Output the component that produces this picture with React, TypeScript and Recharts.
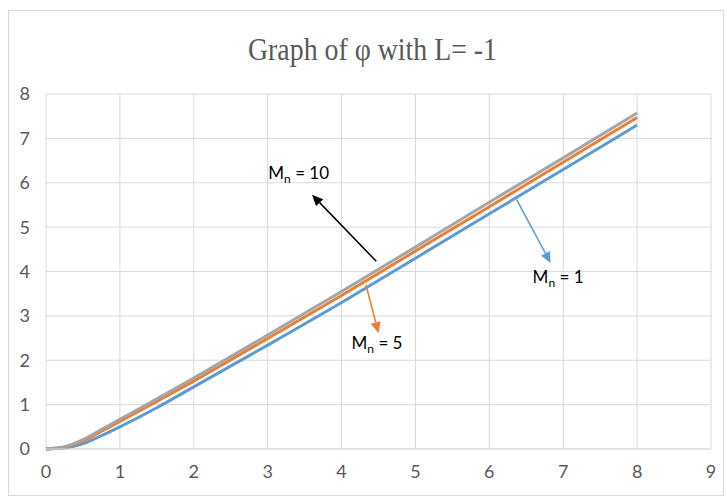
import { LineChart, Line, XAxis, YAxis, CartesianGrid, ReferenceLine, ReferenceDot } from 'recharts'

// eta samples and phi for each M_n
const etaValues = [0, 0.25, 0.5, 0.75, 1, 1.5, 2, 3, 4, 5, 6, 7, 8]
const phiMn1 = [0, 0.02, 0.12, 0.3, 0.5, 0.93, 1.4, 2.34, 3.3, 4.3, 5.3, 6.3, 7.3]
const phiMn5 = [0, 0.04, 0.18, 0.4, 0.62, 1.07, 1.53, 2.49, 3.46, 4.46, 5.46, 6.46, 7.47]
const phiMn10 = [0, 0.05, 0.21, 0.44, 0.67, 1.13, 1.6, 2.57, 3.55, 4.55, 5.56, 6.56, 7.57]

const xTicks = [0, 1, 2, 3, 4, 5, 6, 7, 8, 9]
const yTicks = [0, 1, 2, 3, 4, 5, 6, 7, 8]

// callouts: arrow from tail to head, label centre
const callouts = [
  { label: '10', color: '#000000', tail: [4.47, 4.23], head: [3.6, 5.73], text: [3.42, 6.21] },
  { label: '5', color: '#ED7D31', tail: [4.33, 3.7], head: [4.5, 2.61], text: [4.48, 2.39] },
  { label: '1', color: '#5B9BD5', tail: [6.37, 5.62], head: [6.83, 4.19], text: [6.93, 3.88] },
]

const data = etaValues.map((x, i) => ({ x, m1: phiMn1[i], m5: phiMn5[i], m10: phiMn10[i] }))

const FONT = 'Lato, "Open Sans", sans-serif'

function arrowShape(color: string) {
  return (props: any) => {
    const { x1, y1, x2, y2 } = props
    const ang = Math.atan2(y2 - y1, x2 - x1)
    const len = 11
    const w = 5
    const bx = x2 - len * Math.cos(ang)
    const by = y2 - len * Math.sin(ang)
    const px = -Math.sin(ang) * w
    const py = Math.cos(ang) * w
    return (
      <g>
        <line x1={x1} y1={y1} x2={bx} y2={by} stroke={color} strokeWidth={1.5} />
        <polygon points={`${x2},${y2} ${bx + px},${by + py} ${bx - px},${by - py}`} fill={color} />
      </g>
    )
  }
}

function labelShape(value: string) {
  return (props: any) => {
    const { cx, cy } = props
    return (
      <text x={cx} y={cy + 6} textAnchor="middle" fontFamily={FONT} fontSize={17} fill="#000">
        <tspan>M</tspan>
        <tspan fontSize={12} dy={4}>n</tspan>
        <tspan dy={-4}>{` = ${value}`}</tspan>
      </text>
    )
  }
}

export default function App() {
  return (
    <div style={{ position: 'absolute', left: 8, top: 10, width: 716, height: 486, border: '1px solid #d9d9d9', boxSizing: 'border-box', background: '#fff' }}>
      <svg width={714} height={70} style={{ position: 'absolute', left: 0, top: 0 }}>
        <text
          x={363.5} y={49} textAnchor="middle" textLength={249} lengthAdjust="spacingAndGlyphs"
          fontFamily='"Liberation Serif", "DejaVu Serif", serif' fontSize={32} fill="#595959"
        >
          Graph of φ with L= -1
        </text>
      </svg>
      <LineChart width={714} height={484} data={data} margin={{ top: 83, right: 12, left: 0, bottom: 0 }}>
        <CartesianGrid stroke="#d9d9d9" />
        <XAxis
          dataKey="x" type="number" domain={[0, 9]} ticks={xTicks} height={46}
          axisLine={{ stroke: '#d9d9d9' }} tickLine={false} tickMargin={10}
          tick={{ fontSize: 18, fill: '#595959', fontFamily: FONT }}
        />
        <YAxis
          type="number" domain={[0, 8]} ticks={yTicks} width={37}
          axisLine={false} tickLine={false} tickMargin={10}
          tick={{ fontSize: 18, fill: '#595959', fontFamily: FONT }}
        />
        <Line type="monotone" dataKey="m1" stroke="#5B9BD5" strokeWidth={3} dot={false} isAnimationActive={false} />
        <Line type="monotone" dataKey="m5" stroke="#ED7D31" strokeWidth={3} dot={false} isAnimationActive={false} />
        <Line type="monotone" dataKey="m10" stroke="#A5A5A5" strokeWidth={3} dot={false} isAnimationActive={false} />
        {callouts.map((c) => (
          <ReferenceLine
            key={`a${c.label}`}
            segment={[{ x: c.tail[0], y: c.tail[1] }, { x: c.head[0], y: c.head[1] }]}
            shape={arrowShape(c.color)}
          />
        ))}
        {callouts.map((c) => (
          <ReferenceDot key={`t${c.label}`} x={c.text[0]} y={c.text[1]} r={0} shape={labelShape(c.label)} />
        ))}
      </LineChart>
    </div>
  )
}
